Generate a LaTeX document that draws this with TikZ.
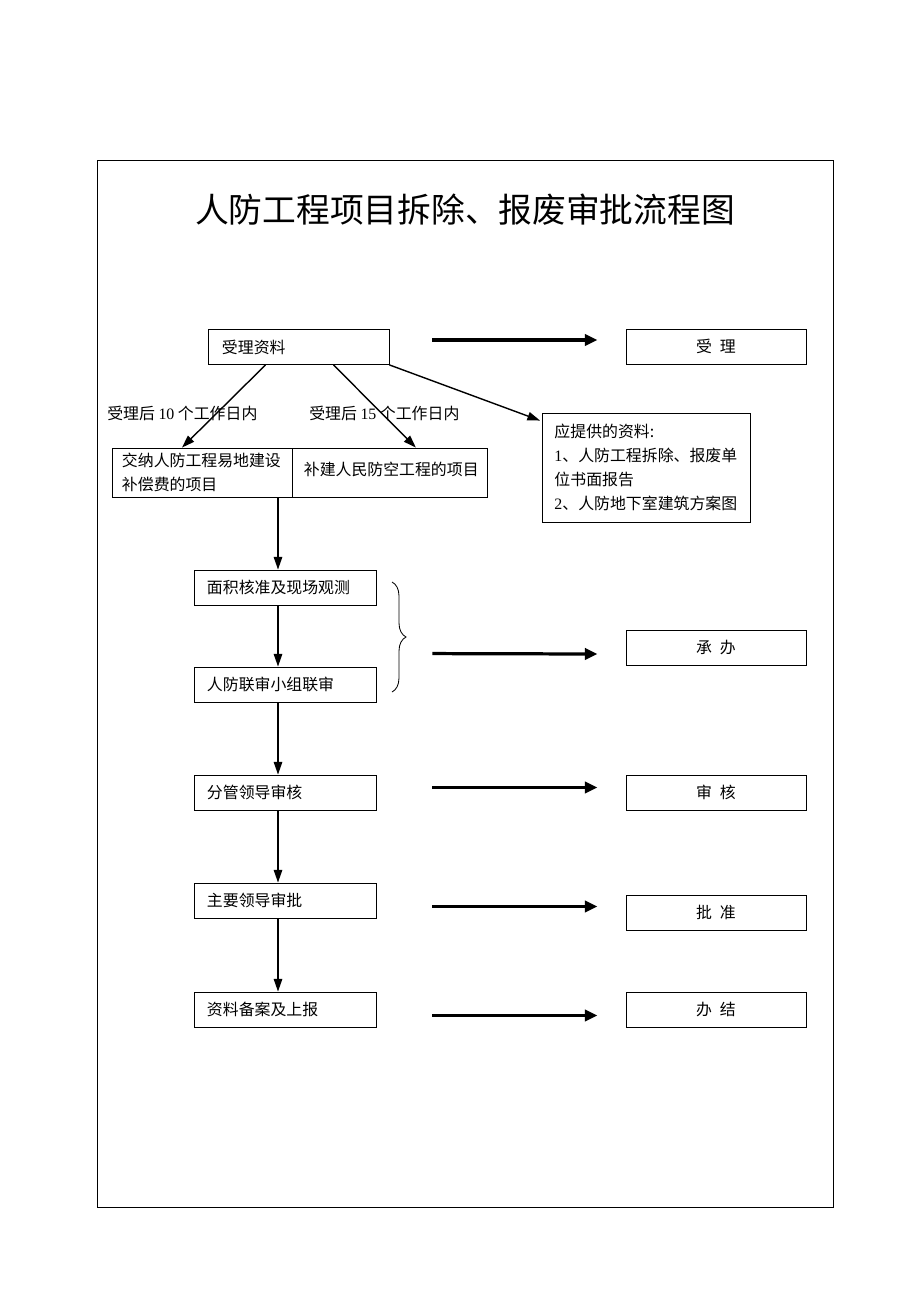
\documentclass[tikz,border=0pt]{standalone}
\usepackage{fontspec}
\setmainfont{Liberation Serif}
\newfontfamily\cjk{Noto Sans CJK SC}
\usetikzlibrary{arrows.meta,positioning,calc,decorations.pathreplacing}

\begin{document}
\begin{tikzpicture}[
        x=0.025cm, y=-0.025cm,
        every node/.style={font=\cjk\fontsize{11.3}{17}\selectfont},
        stepbox/.style={rectangle, draw, line width=0.6pt, minimum width=4.55cm, minimum height=0.875cm, text width=3.9cm, inner xsep=0.325cm, align=left},
        resultbox/.style={rectangle, draw, line width=0.6pt, minimum width=4.5cm, minimum height=0.875cm, align=center},
        arrow/.style={-{Triangle[length=9pt, width=6pt]}, line width=1pt},
        bigarrow/.style={-{Triangle[length=9pt, width=8pt]}, line width=2.3pt},
        label/.style={anchor=west, inner sep=0pt}
    ]
        \useasboundingbox (0,0) rectangle (920,1302);
        \coordinate (spine) at (278,0);

        % Frame and title
        \draw[line width=0.6pt] (97,160) rectangle (833,1207);
        \node[font=\cjk\fontsize{24}{28}\selectfont] (title) at (465,210) {人防工程项目拆除、报废审批流程图};

        % Receiving
        \node[stepbox, minimum width=4.525cm, text width=3.825cm, inner xsep=0.35cm] (shouli) at (298.5,347) {受理资料};
        \node[resultbox] (r1) at (716,346.5) {受\hspace{0.5em}理};

        % Two kinds of projects
        \node[rectangle, draw, line width=0.6pt, minimum width=4.5cm, minimum height=1.225cm, text width=4.0cm, inner xsep=0.25cm, align=left] (jiaona) at (202,472.5) {交纳人防工程易地建设\\补偿费的项目};
        \node[rectangle, draw, line width=0.6pt, minimum width=4.85cm, minimum height=1.225cm, text width=4.3cm, inner xsep=0.275cm, align=left, anchor=west] (bujian) at (jiaona.east) {\raisebox{0.45em}{补建人民防空工程的项目}};
        \node[label] (lab10) at (107,413) {受理后 {\rmfamily 10} 个工作日内};
        \node[label] (lab15) at (309,413) {受理后 {\rmfamily 15} 个工作日内};

        % Documents
        \node[rectangle, draw, line width=0.6pt, minimum width=5.175cm, minimum height=2.725cm, text width=4.6cm, inner xsep=0.3cm, align=left] (ziliao) at (646.5,467.5) {应提供的资料:\\{\rmfamily 1}、人防工程拆除、报废单\\位书面报告\\{\rmfamily 2}、人防地下室建筑方案图};

        % Steps
        \node[stepbox] (mianji) at (285,587.5) {面积核准及现场观测};
        \node[stepbox] (liansheng) at (285,684.5) {人防联审小组联审};
        \node[stepbox] (fenguan) at (285,792.5) {分管领导审核};
        \node[stepbox] (zhuyao) at (285,900.5) {主要领导审批};
        \node[stepbox] (beian) at (285,1009.5) {资料备案及上报};

        % Results
        \node[resultbox] (r2) at (716,647.5) {承\hspace{0.5em}办};
        \node[resultbox] (r3) at (716,792.5) {审\hspace{0.5em}核};
        \node[resultbox] (r4) at (716,912.5) {批\hspace{0.5em}准};
        \node[resultbox] (r5) at (716,1009.5) {办\hspace{0.5em}结};

        % Arrows
        \draw[arrow] ($(shouli.south)+(-33,0)$) -- ($(jiaona.north)+(-20,0)$);
        \draw[arrow] ($(shouli.south)+(35,0)$) -- ($(bujian.north)+(26,0)$);
        \draw[arrow] (shouli.south east) -- ($(ziliao.north west)+(-2,8)$);
        \draw[arrow] (jiaona.south -| spine) -- (mianji.north -| spine);
        \draw[arrow] (mianji.south -| spine) -- (liansheng.north -| spine);
        \draw[arrow] (liansheng.south -| spine) -- (fenguan.north -| spine);
        \draw[arrow] (fenguan.south -| spine) -- (zhuyao.north -| spine);
        \draw[arrow] (zhuyao.south -| spine) -- (beian.north -| spine);

        % Brace
        \coordinate (bracetop) at (392,582);
        \coordinate (bracebot) at (392,692);
        \draw[line width=0.6pt, decorate, decoration={brace, amplitude=0.35cm}] (bracetop) -- (bracebot);

        % Thick arrows
        \draw[bigarrow] ($(shouli.east)+(43,-7)$) -- ($(r1.west)+(-28,-6.5)$);
        \draw[bigarrow] ($(liansheng.north east)+(56,-13)$) -- ($(r2.west)+(-28,6.5)$);
        \draw[bigarrow] ($(fenguan.east)+(56,-5)$) -- ($(r3.west)+(-28,-5)$);
        \draw[bigarrow] ($(zhuyao.east)+(56,6)$) -- ($(r4.west)+(-28,-6)$);
        \draw[bigarrow] ($(beian.east)+(56,6)$) -- ($(r5.west)+(-28,6)$);
    \end{tikzpicture}
\end{document}
